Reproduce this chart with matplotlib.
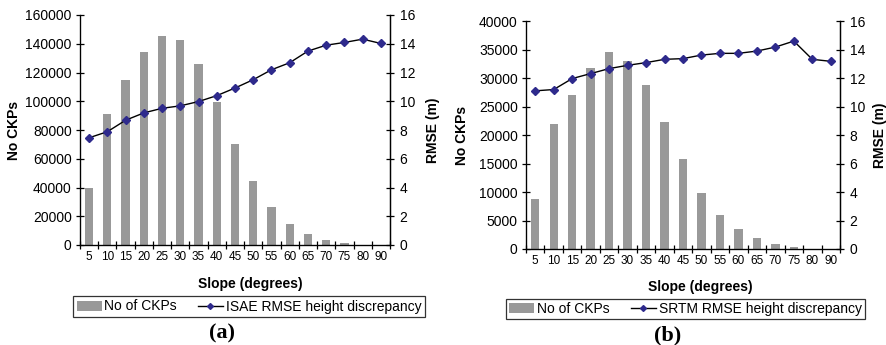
import numpy as np
import matplotlib.pyplot as plt
from matplotlib.patches import Patch
from matplotlib.lines import Line2D

plt.rcParams['font.family'] = ['Liberation Sans', 'DejaVu Sans']

slope_labels = ['5', '10', '15', '20', '25', '30', '35', '40', '45', '50',
                '55', '60', '65', '70', '75', '80', '90']

# (a) ISAE
isae_ckps = [39500, 90800, 114500, 134400, 145500, 142700, 126200, 99800, 70000,
             44300, 26300, 14500, 7600, 3700, 1400, 200, 0]
isae_rmse = [7.46, 7.88, 8.68, 9.19, 9.51, 9.68, 9.98, 10.39, 10.92, 11.50,
             12.19, 12.68, 13.49, 13.90, 14.09, 14.32, 14.02]

# (b) SRTM
srtm_ckps = [8800, 21900, 27000, 31700, 34500, 32900, 28700, 22300, 15800,
             9900, 5900, 3450, 1900, 800, 300, 0, 0]
srtm_rmse = [11.10, 11.19, 11.96, 12.31, 12.66, 12.89, 13.08, 13.31, 13.36,
             13.61, 13.73, 13.73, 13.89, 14.17, 14.59, 13.31, 13.17]

W, H = 887, 345
BAR_COLOR = '#999999'
MARK_COLOR = '#2e2a8c'
NARROW = ['Liberation Sans Narrow', 'Liberation Sans', 'DejaVu Sans']


def px_axes(fig, left, top, right, bottom):
    return fig.add_axes([left / W, 1 - bottom / H, (right - left) / W, (bottom - top) / H])


def draw_panel(fig, box, ckps, rmse, ymax, ystep, name, ylab_x, rlab_x, slope_x, slope_y,
               leg_box, tag_xy, tag):
    ax = px_axes(fig, *box)
    x = np.arange(len(slope_labels))
    ax.bar(x, ckps, width=0.45, color=BAR_COLOR, zorder=1)
    ax.set_xlim(-0.5, len(x) - 0.5)
    ax.set_ylim(0, ymax)
    ax.set_yticks(np.arange(0, ymax + 1, ystep))
    ax.set_xticks(x)
    ax.set_xticklabels(slope_labels, family=NARROW, fontsize=8.5)
    ax.set_xticks(np.arange(-0.5, len(x)), minor=True)
    ax.tick_params(axis='x', which='major', length=0, pad=4)
    ax.tick_params(axis='x', which='minor', direction='inout', length=6, width=0.9)
    ax.tick_params(axis='y', direction='inout', length=6, width=0.9, labelsize=10, pad=3)
    ax.spines['top'].set_visible(False)
    for s in ['left', 'bottom', 'right']:
        ax.spines[s].set_linewidth(0.9)

    ax2 = ax.twinx()
    ax2.plot(x, rmse, color='black', lw=1.0, marker='D', ms=4,
             mfc=MARK_COLOR, mec=MARK_COLOR, zorder=3)
    ax2.set_ylim(0, 16)
    ax2.set_yticks(np.arange(0, 17, 2))
    ax2.tick_params(axis='y', direction='inout', length=6, width=0.9, labelsize=10, pad=4)
    ax2.spines['top'].set_visible(False)
    ax2.spines['right'].set_linewidth(0.9)

    fig.text(ylab_x / W, 1 - ((box[1] + box[3]) / 2) / H, 'No CKPs', rotation=90,
             ha='center', va='center', fontsize=10, fontweight='bold')
    fig.text(rlab_x / W, 1 - ((box[1] + box[3]) / 2) / H, 'RMSE (m)', rotation=90,
             ha='center', va='center', fontsize=10, fontweight='bold')
    fig.text(slope_x / W, 1 - slope_y / H, 'Slope (degrees)', ha='center', va='center',
             fontsize=10, fontweight='bold')

    handles = [Patch(facecolor=BAR_COLOR, edgecolor='none'),
               Line2D([], [], color='black', lw=1.0, marker='D', ms=3,
                      mfc=MARK_COLOR, mec=MARK_COLOR)]
    lx0, ly0, lx1, ly1 = leg_box
    leg = fig.legend(handles, ['No of CKPs', name], ncol=2, loc='center',
                     bbox_to_anchor=((lx0 + lx1) / 2 / W, 1 - (ly0 + ly1) / 2 / H),
                     fontsize=10, frameon=True, fancybox=False, borderpad=0.25,
                     handlelength=1.8, handletextpad=0.2, columnspacing=1.5,
                     borderaxespad=0)
    leg.get_frame().set_edgecolor('black')
    leg.get_frame().set_linewidth(0.9)

    fig.text(tag_xy[0] / W, 1 - tag_xy[1] / H, tag, ha='center', va='center',
             family=['Liberation Serif', 'DejaVu Serif'], fontsize=16, fontweight='bold')


fig = plt.figure(figsize=(W / 100, H / 100), dpi=100)

draw_panel(fig, (80, 15, 390, 245), isae_ckps, isae_rmse, 160000, 20000,
           'ISAE RMSE height discrepancy', 14, 433, 250, 284,
           (73, 295, 425, 318), (222, 333), '(a)')
draw_panel(fig, (526, 21, 840, 249), srtm_ckps, srtm_rmse, 40000, 5000,
           'SRTM RMSE height discrepancy', 462, 880, 700, 287,
           (509, 298, 862, 320), (668, 335), '(b)')

fig.savefig('out.png', dpi=100)
